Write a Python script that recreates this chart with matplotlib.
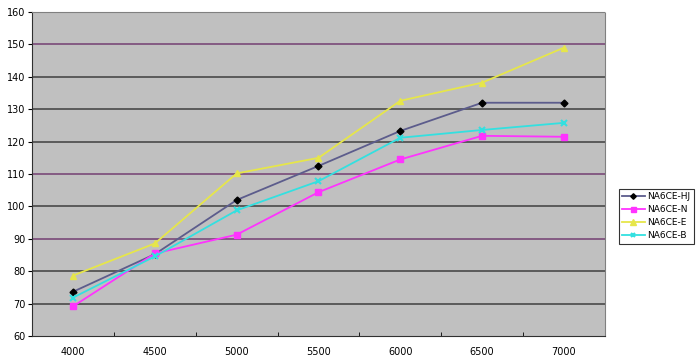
import numpy as np
import matplotlib.pyplot as plt

# DATA
categories = ["4000", "4500", "5000", "5500", "6000", "6500", "7000"]
hj = [73.7, 85.3, 102.0, 112.5, 123.3, 132.0, 132.0]
n = [69.2, 85.5, 91.3, 104.4, 114.5, 121.8, 121.5]
e = [78.7, 88.6, 110.2, 115.0, 132.6, 138.2, 149.0]
b = [71.9, 84.6, 98.8, 107.8, 121.2, 123.6, 125.8]
series_names = ["NA6CE-HJ", "NA6CE-N", "NA6CE-E", "NA6CE-B"]

fig = plt.figure(figsize=(7.0, 3.63), dpi=100)
ax = fig.add_axes([0.046, 0.074, 0.818, 0.893])
ax.set_facecolor("#c0c0c0")

x = np.arange(len(categories))

# gridlines (some drawn purple like the original)
for yv in range(70, 160, 10):
    col = "#7a4a78" if yv in (90, 110, 150) else "#4a4a4a"
    ax.axhline(yv, color=col, lw=1.2, zorder=1)

ax.plot(x, hj, color="#5c5c8c", lw=1.3, marker="D", ms=3.5, mfc="black", mec="black", label=series_names[0], zorder=3)
ax.plot(x, n, color="#ff33ff", lw=1.3, marker="s", ms=4.5, label=series_names[1], zorder=3)
ax.plot(x, e, color="#e6e64a", lw=1.3, marker="^", ms=5, label=series_names[2], zorder=3)
ax.plot(x, b, color="#33e0e0", lw=1.3, marker="x", ms=4, mew=1.5, label=series_names[3], zorder=3)

ax.set_xlim(-0.5, 6.5)
ax.set_ylim(60, 160)
ax.set_yticks(range(60, 161, 10))
ax.set_xticks(x)
ax.set_xticklabels(categories)
ax.set_xticks(np.arange(-0.5, 7, 1), minor=True)
ax.tick_params(axis="x", which="major", length=0, labelsize=7, pad=8)
ax.tick_params(axis="x", which="minor", length=3, direction="in")
ax.tick_params(axis="y", length=3, direction="out", labelsize=7, pad=2)

for side in ["top", "right"]:
    ax.spines[side].set_color("#808080")
    ax.spines[side].set_linestyle((0, (1, 1)))
    ax.spines[side].set_linewidth(0.8)
ax.spines["left"].set_color("#303030")
ax.spines["bottom"].set_color("#303030")

leg = fig.legend(loc="upper left", bbox_to_anchor=(0.884, 0.479), fontsize=6.5,
                 frameon=True, fancybox=False, edgecolor="black", borderaxespad=0,
                 handlelength=2.5, borderpad=0.35, labelspacing=0.45, handletextpad=0.3,
                 markerscale=0.8)
leg.get_frame().set_linewidth(0.8)

fig.savefig("out.png", dpi=100)
